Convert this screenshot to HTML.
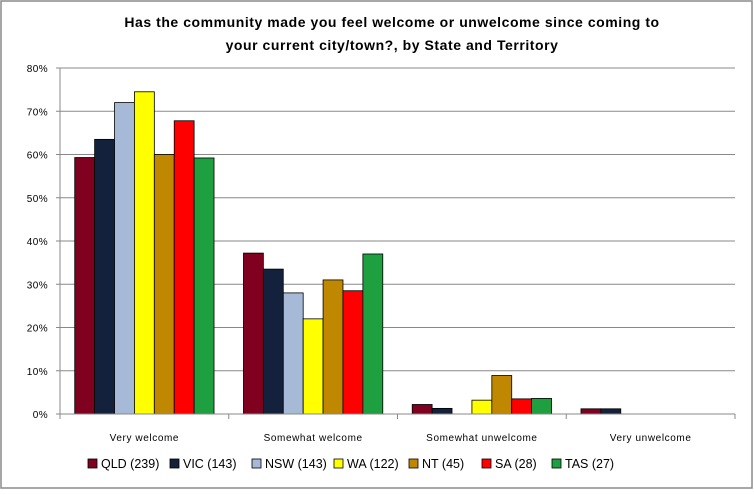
<!DOCTYPE html>
<html><head><meta charset="utf-8"><style>
body{margin:0;background:#fff;}
svg text{font-family:"Liberation Sans",sans-serif;}
</style></head><body>
<svg id="chart" width="754" height="490" xmlns="http://www.w3.org/2000/svg">
<rect x="1" y="1" width="751" height="487" fill="#fff" stroke="#8a8a8a" stroke-width="1.5"/>
<text x="392" y="27" text-anchor="middle" font-size="14" font-weight="bold" letter-spacing="0.55" fill="#000">Has the community made you feel welcome or unwelcome since coming to</text>
<text x="392" y="50" text-anchor="middle" font-size="14" font-weight="bold" letter-spacing="0.55" fill="#000">your current city/town?, by State and Territory</text>
<g id="grid"></g><g id="bars"></g><g id="axes"></g><g id="legend"></g>
</svg>
<script>
const categories=["Very welcome","Somewhat welcome","Somewhat unwelcome","Very unwelcome"];
const seriesNames=["QLD (239)","VIC (143)","NSW (143)","WA (122)","NT (45)","SA (28)","TAS (27)"];
const qld=[59.3,37.2,2.2,1.2];
const vic=[63.5,33.5,1.3,1.2];
const nsw=[72,28,0,0];
const wa=[74.5,22,3.2,0];
const nt=[60,31,8.9,0];
const sa=[67.8,28.5,3.5,0];
const tas=[59.2,37,3.6,0];
const yTicks=[0,10,20,30,40,50,60,70,80];
const series=[qld,vic,nsw,wa,nt,sa,tas];
const colors=["#800020","#14213d","#a6bad8","#ffff00","#c08800","#ff0000","#1fa040"];
const NS="http://www.w3.org/2000/svg";
const X0=60,X1=735,Y0=414,Y1=68;
const gw=(X1-X0)/categories.length, bw=19.9, pad=(gw-7*bw)/2;
function y(v){return Y0-(v/80)*(Y0-Y1);}
function mk(t,a,p){const e=document.createElementNS(NS,t);for(const k in a)e.setAttribute(k,a[k]);p.appendChild(e);return e;}
const grid=document.getElementById('grid'),bars=document.getElementById('bars'),axes=document.getElementById('axes'),leg=document.getElementById('legend');
yTicks.forEach(t=>{
 const l=mk('line',{x1:X0,x2:X1,y1:y(t),y2:y(t),stroke:'#888','stroke-width':1},grid);
 
 
 const tk=mk('line',{x1:X0-4,x2:X0,y1:y(t),y2:y(t),stroke:'#888'},axes);
 
 
 const tx=mk('text',{x:X0-12,y:y(t)+4,'text-anchor':'end','font-size':10,'letter-spacing':0.4,fill:'#000'},axes);
 tx.textContent=t+'%';
 
 
});
const ya=mk('line',{x1:X0,x2:X0,y1:Y1,y2:Y0,stroke:'#888'},axes);


categories.forEach((c,i)=>{
 const gx=X0+i*gw;
 series.forEach((s,j)=>{
  const v=s[i]; if(v<=0) return;
  const r=mk('rect',{x:gx+pad+j*bw,y:y(v),width:bw,height:Y0-y(v),fill:colors[j],stroke:'#000','stroke-width':0.8},bars);
  
  
 });
 const tx=mk('text',{x:gx+gw/2,y:441,'text-anchor':'middle','font-size':10,'letter-spacing':0.6,fill:'#000'},axes);
 tx.textContent=c;
 
 
});
for(let i=0;i<=categories.length;i++){
 const tk=mk('line',{x1:X0+i*gw,x2:X0+i*gw,y1:Y0,y2:Y0+5,stroke:'#888'},axes);
 
 
}
const xa=mk('line',{x1:X0,x2:X1,y1:Y0,y2:Y0,stroke:'#888'},axes);


const lx=[88,170,252,334,409,482,552];
seriesNames.forEach((n,j)=>{
 const g=mk('g',{},leg);
 
 
 mk('rect',{x:lx[j],y:459,width:9,height:9,fill:colors[j],stroke:'#000','stroke-width':0.8},g);
 const t=mk('text',{x:lx[j]+13,y:468,'font-size':12.5,fill:'#000'},g);
 t.textContent=n;
});
</script>
</body></html>
